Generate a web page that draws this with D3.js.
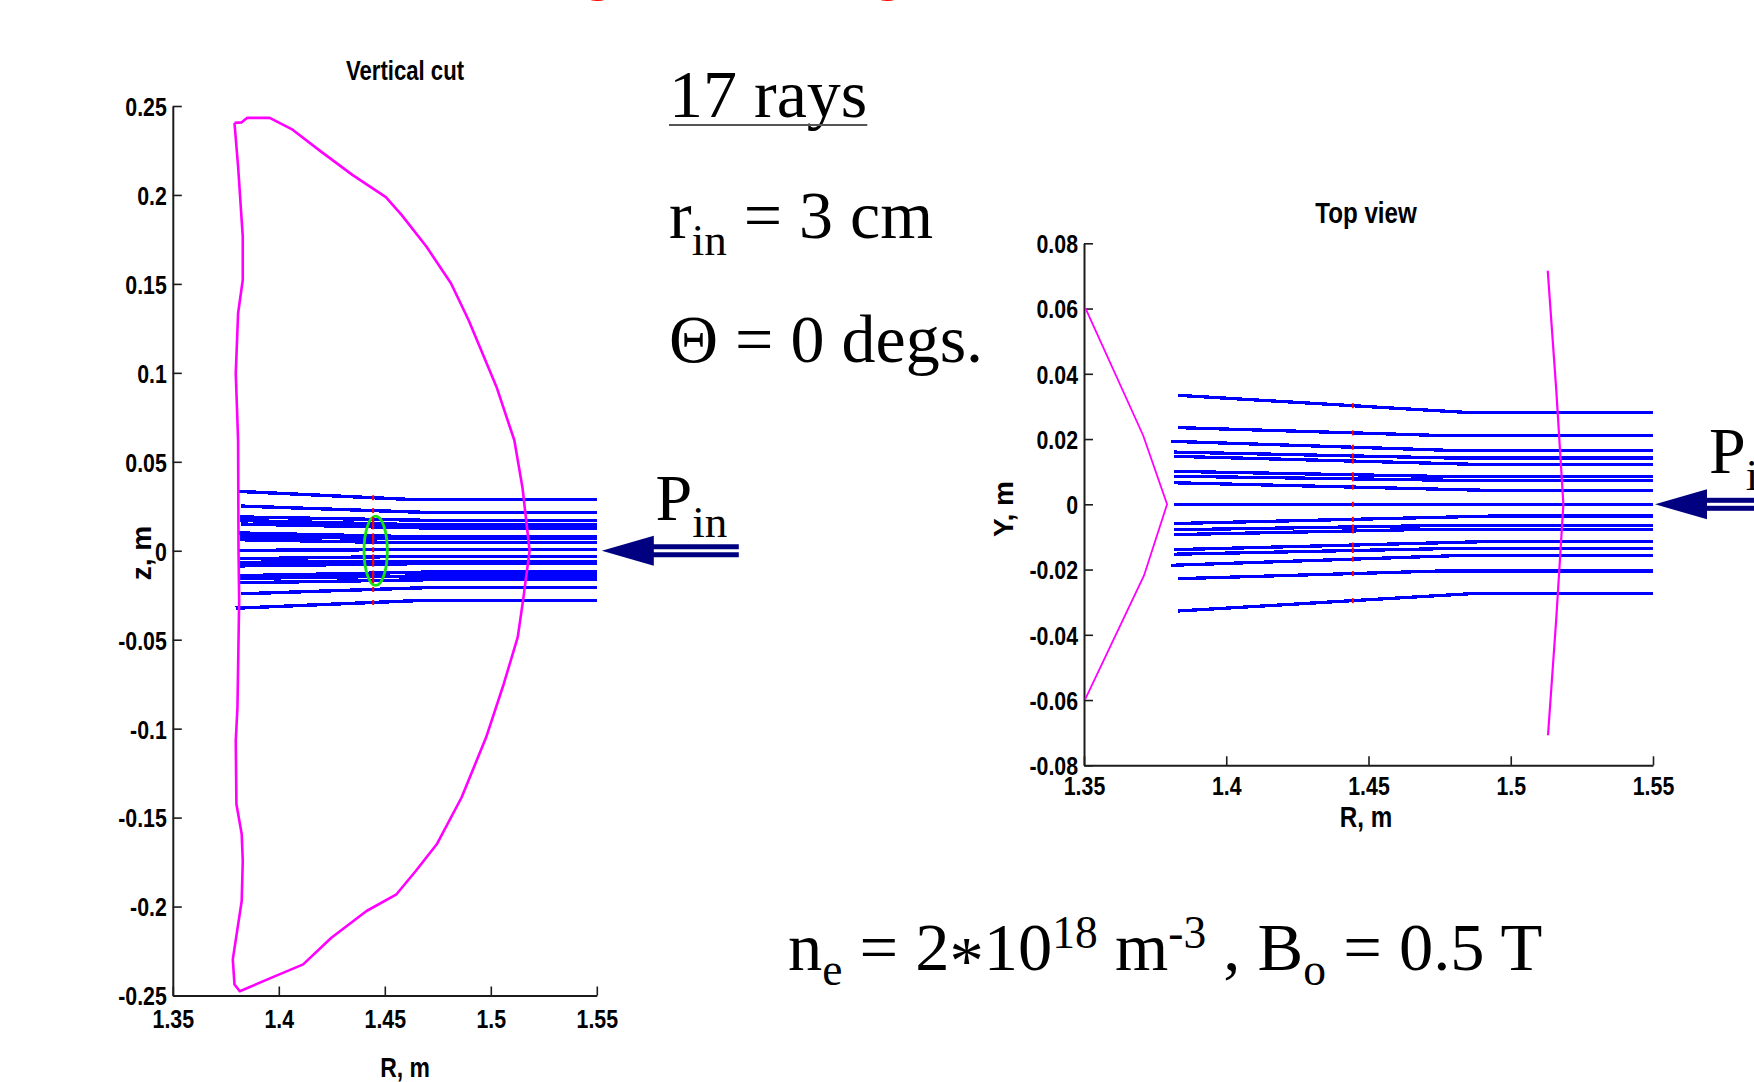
<!DOCTYPE html>
<html>
<head>
<meta charset="utf-8">
<script src="https://cdn.jsdelivr.net/npm/d3@7"></script>
<style>
  html, body { margin: 0; padding: 0; background: #fff; }
  svg { display: block; }
</style>
</head>
<body>
<svg id="fig" width="1754" height="1082"></svg>
<script>
// ---------------- data ----------------
// Axis ticks
const rTicks = [1.35, 1.4, 1.45, 1.5, 1.55];
const rTickLabels = ["1.35", "1.4", "1.45", "1.5", "1.55"];
const zTicks = [0.25, 0.2, 0.15, 0.1, 0.05, 0, -0.05, -0.1, -0.15, -0.2, -0.25];
const zTickLabels = ["0.25", "0.2", "0.15", "0.1", "0.05", "0", "-0.05", "-0.1", "-0.15", "-0.2", "-0.25"];
const yTicks = [0.08, 0.06, 0.04, 0.02, 0, -0.02, -0.04, -0.06, -0.08];
const yTickLabels = ["0.08", "0.06", "0.04", "0.02", "0", "-0.02", "-0.04", "-0.06", "-0.08"];

// Vertical cut: plasma boundary [R, z] in metres
const boundaryR = [1.3791, 1.3825, 1.3850, 1.3957, 1.4065, 1.4198, 1.4347, 1.4505, 1.4579, 1.4696,
  1.4812, 1.4895, 1.5027, 1.5111, 1.5150, 1.5183, 1.5152, 1.5127, 1.5061, 1.4978, 1.4862, 1.4745,
  1.4646, 1.4555, 1.4414, 1.4248, 1.4115, 1.3983, 1.3816, 1.3791, 1.3783, 1.3825, 1.3830, 1.3825,
  1.3800, 1.3797, 1.3805, 1.3813, 1.3810, 1.3808, 1.3797, 1.3808, 1.3830, 1.3830, 1.3808, 1.3791];
const boundaryZ = [0.2405, 0.2408, 0.2433, 0.2433, 0.2367, 0.2245, 0.2113, 0.1988, 0.1888, 0.1710,
  0.1504, 0.1297, 0.0921, 0.0621, 0.0350, 0.0000, -0.0280, -0.0486, -0.0749, -0.1049, -0.1387, -0.1650,
  -0.1800, -0.1931, -0.2025, -0.2175, -0.2325, -0.2391, -0.2476, -0.2438, -0.2297, -0.1969, -0.1744, -0.1593,
  -0.1424, -0.1068, -0.0880, -0.0280, 0.0000, 0.0621, 0.0997, 0.1335, 0.1522, 0.1766, 0.2160, 0.2405];

// Vertical cut: rays (launched at R = 1.55, traced inward)
const rayREnd = 1.55;
const rayRLeftV  = [1.3802, 1.3823, 1.3818, 1.3815, 1.3820, 1.3812, 1.3815, 1.3818, 1.3812, 1.3815, 1.3812, 1.3818, 1.3815, 1.3818, 1.3815, 1.3820, 1.3796];
const rayZLeftV  = [0.0334, 0.0251, 0.0190, 0.0170, 0.0150, 0.0100, 0.0080, 0.0062, 0.0002, -0.0045, -0.0065, -0.0085, -0.0140, -0.0155, -0.0180, -0.0242, -0.0323];
const rayRFlatV  = [1.4643, 1.4730, 1.4700, 1.4600, 1.4700, 1.4556, 1.4600, 1.4600, 1.4500, 1.4600, 1.4700, 1.4700, 1.4700, 1.4600, 1.4700, 1.4761, 1.4659];
const rayZRightV = [0.0287, 0.0214, 0.0171, 0.0148, 0.0128, 0.0081, 0.0068, 0.0045, 0.0006, -0.0032, -0.0060, -0.0072, -0.0120, -0.0143, -0.0163, -0.0205, -0.0280];

// Absorption spot in the vertical cut (centre and half-widths, m)
const spotR = 1.4457, spotZ = 0.0, spotHalfR = 0.0055, spotHalfZ = 0.0195;
// Resonance position along R
const resonanceR = 1.4445;

// Top view: walls [R, Y]
const innerWallR = [1.3505, 1.3708, 1.3792, 1.3711, 1.3504];
const innerWallY = [0.0601, 0.0211, 0.0000, -0.0218, -0.0598];
const outerWallR = [1.5130, 1.5160, 1.5185, 1.5160, 1.5131];
const outerWallY = [0.0716, 0.0350, 0.0000, -0.0350, -0.0708];

// Top view: rays
const rayRLeftT  = [1.3830, 1.3830, 1.3806, 1.3818, 1.3818, 1.3815, 1.3818, 1.3818, 1.3818, 1.3817, 1.3817, 1.3815, 1.3818, 1.3818, 1.3806, 1.3830, 1.3830];
const rayYLeftT  = [0.0334, 0.0235, 0.0193, 0.0160, 0.0147, 0.0101, 0.0086, 0.0066, 0.0000, -0.0059, -0.0078, -0.0093, -0.0139, -0.0153, -0.0187, -0.0228, -0.0327];
const rayRFlatT  = [1.4836, 1.4749, 1.4797, 1.4783, 1.4896, 1.4780, 1.4840, 1.4907, 1.4500, 1.4937, 1.4830, 1.4700, 1.4930, 1.4815, 1.4820, 1.4770, 1.4860];
const rayYRightT = [0.0282, 0.0211, 0.0165, 0.0142, 0.0122, 0.0085, 0.0073, 0.0043, 0.0000, -0.0036, -0.0064, -0.0077, -0.0114, -0.0135, -0.0157, -0.0204, -0.0274];

// ---------------- fonts ----------------
function fontAvailable(name) {
  const ctx = document.createElement("canvas").getContext("2d");
  const probe = "0.25 Vertical cut R, m";
  ctx.font = "bold 40px monospace";
  const w0 = ctx.measureText(probe).width;
  ctx.font = `bold 40px "${name}", monospace`;
  return ctx.measureText(probe).width !== w0;
}
const hasNarrow = fontAvailable("Liberation Sans Narrow");
const narrowFamily = hasNarrow ? '"Liberation Sans Narrow", "Arial Narrow", sans-serif' : '"Liberation Sans", Arial, sans-serif';
const plainFamily = '"Liberation Sans", Arial, sans-serif';
const kx = hasNarrow ? 1 : 0.82;   // horizontal squeeze when no narrow face exists
const serifFamily = '"Liberation Serif", "Times New Roman", serif';

// ---------------- scales ----------------
const svg = d3.select("#fig");
const xV = d3.scaleLinear().domain([1.35, 1.55]).range([172.8, 596.8]);
const yV = d3.scaleLinear().domain([-0.25, 0.25]).range([995.5, 106]);
const xT = d3.scaleLinear().domain([1.35, 1.55]).range([1084, 1653]);
const yT = d3.scaleLinear().domain([-0.08, 0.08]).range([765.3, 243.3]);

const AXIS_COLOR = "#1c1c1c";

function drawAxes(x, y, xt, xl, yt, yl, xLabelY) {
  const gx = svg.append("g")
    .attr("transform", `translate(0,${y.range()[0]})`)
    .call(d3.axisBottom(x).tickValues(xt).tickFormat((d, i) => xl[i]).tickSizeInner(-9).tickSizeOuter(0));
  const gy = svg.append("g")
    .attr("transform", `translate(${x.range()[0]},0)`)
    .call(d3.axisLeft(y).tickValues(yt).tickFormat((d, i) => yl[i]).tickSizeInner(-9).tickSizeOuter(0));
  [gx, gy].forEach(g => {
    g.select(".domain").attr("stroke", AXIS_COLOR).attr("stroke-width", 2);
    g.selectAll(".tick line").attr("stroke", AXIS_COLOR).attr("stroke-width", 1.6);
    g.selectAll(".tick text")
      .attr("font-family", narrowFamily).attr("font-weight", "bold").attr("font-size", 26)
      .attr("fill", "#000").attr("transform", `scale(${kx},1)`);
  });
  gx.selectAll(".tick text").attr("y", xLabelY).attr("dy", null);
  gy.selectAll(".tick text").attr("x", -6 / kx).attr("dy", "0.36em");
}

// bold condensed heading / axis caption
function sansLabel(x, y, txt, size) {
  svg.append("text")
    .attr("transform", `translate(${x},${y}) scale(${kx},1)`)
    .attr("text-anchor", "middle")
    .attr("font-family", narrowFamily).attr("font-weight", "bold").attr("font-size", size)
    .attr("fill", "#000")
    .text(txt);
}

// rotated axis caption (drawn at full width)
function sideLabel(x, y, txt) {
  svg.append("text")
    .attr("transform", `translate(${x},${y}) rotate(-90)`)
    .attr("text-anchor", "middle")
    .attr("font-family", plainFamily).attr("font-weight", "bold").attr("font-size", 28)
    .attr("fill", "#000")
    .text(txt);
}

function richText(x, y, size, parts, small = 45, subShift = 17, supShift = -22) {
  const t = svg.append("text")
    .attr("x", x).attr("y", y)
    .attr("font-family", serifFamily).attr("font-size", size)
    .attr("fill", "#000")
    .style("white-space", "pre");
  let shift = 0;
  parts.forEach(p => {
    const target = p.sub ? subShift : p.sup ? supShift : (p.shift || 0);
    t.append("tspan")
      .attr("dy", target - shift)
      .attr("font-size", (p.sub || p.sup) ? small : size)
      .text(p.t);
    shift = target;
  });
  return t;
}

function drawArrow(tipX, tipY, length) {
  const headLen = 52, headHalf = 15, band = 5, gap = 3;
  const g = svg.append("g").attr("fill", "#000080");
  g.append("path").attr("d", `M${tipX},${tipY} L${tipX + headLen},${tipY - headHalf} L${tipX + headLen},${tipY + headHalf} Z`);
  g.append("rect").attr("x", tipX + headLen - 1).attr("y", tipY - gap / 2 - band).attr("width", length - headLen + 1).attr("height", band);
  g.append("rect").attr("x", tipX + headLen - 1).attr("y", tipY + gap / 2).attr("width", length - headLen + 1).attr("height", band);
}

// value of a polyline [[R, v], ...] at a given R
function valueAt(pts, r) {
  for (let i = 0; i < pts.length - 1; i++) {
    const [r0, v0] = pts[i], [r1, v1] = pts[i + 1];
    if (r >= r0 && r <= r1) return v0 + (v1 - v0) * (r - r0) / (r1 - r0);
  }
  return pts[pts.length - 1][1];
}

// ---------------- slide heading (runs off the top edge) ----------------
svg.append("g").attr("font-family", serifFamily).attr("font-size", 60).attr("fill", "#ff0000")
  .selectAll("text").data([583, 873]).join("text")
  .attr("x", d => d).attr("y", -12).text("g");

// ---------------- vertical cut ----------------
drawAxes(xV, yV, rTicks, rTickLabels, zTicks, zTickLabels, 33);
sansLabel(405, 80, "Vertical cut", 27);
sansLabel(405, 1077, "R, m", 28);
sideLabel(151, 553, "z, m");

const lineV = d3.line().x(d => xV(d[0])).y(d => yV(d[1]));
const raysV = rayZLeftV.map((z, i) => [[rayRLeftV[i], z], [rayRFlatV[i], rayZRightV[i]], [rayREnd, rayZRightV[i]]]);

svg.append("g").selectAll("path").data(raysV).join("path")
  .attr("d", lineV).attr("fill", "none").attr("stroke", "#0000ff")
  .attr("stroke-width", 3.4).attr("shape-rendering", "crispEdges");

svg.append("path")
  .datum(boundaryR.map((r, i) => [r, boundaryZ[i]]))
  .attr("d", lineV).attr("fill", "none").attr("stroke", "#ff00ff")
  .attr("stroke-width", 2.6).attr("stroke-linejoin", "round");

svg.append("ellipse")
  .attr("cx", xV(spotR)).attr("cy", yV(spotZ))
  .attr("rx", xV(spotR + spotHalfR) - xV(spotR))
  .attr("ry", yV(spotZ) - yV(spotZ + spotHalfZ))
  .attr("fill", "none").attr("stroke", "#12e312").attr("stroke-width", 2.8);

svg.append("g").selectAll("line").data(raysV).join("line")
  .attr("x1", xV(resonanceR)).attr("x2", xV(resonanceR))
  .attr("y1", d => yV(valueAt(d, resonanceR)) - 2.5)
  .attr("y2", d => yV(valueAt(d, resonanceR)) + 2.5)
  .attr("stroke", "#ff0000").attr("stroke-width", 2);

drawArrow(xV(rayREnd) + 5, yV(0), 137);
richText(655.6, 520, 66, [{ t: "P" }, { t: "in", sub: true }]);

// ---------------- top view ----------------
drawAxes(xT, yT, rTicks, rTickLabels, yTicks, yTickLabels, 30);
sansLabel(1366, 223, "Top view", 29.5);
sansLabel(1366, 827, "R, m", 29.5);
sideLabel(1013, 509, "Y, m");

const lineT = d3.line().x(d => xT(d[0])).y(d => yT(d[1]));
const raysT = rayYLeftT.map((v, i) => [[rayRLeftT[i], v], [rayRFlatT[i], rayYRightT[i]], [rayREnd, rayYRightT[i]]]);

svg.append("g").selectAll("path").data(raysT).join("path")
  .attr("d", lineT).attr("fill", "none").attr("stroke", "#0000ff")
  .attr("stroke-width", 3.3).attr("shape-rendering", "crispEdges");

svg.append("g").selectAll("line").data(raysT).join("line")
  .attr("x1", xT(resonanceR)).attr("x2", xT(resonanceR))
  .attr("y1", d => yT(valueAt(d, resonanceR)) - 2.5)
  .attr("y2", d => yT(valueAt(d, resonanceR)) + 2.5)
  .attr("stroke", "#ff0000").attr("stroke-width", 2);

svg.append("path")
  .datum(innerWallR.map((r, i) => [r, innerWallY[i]]))
  .attr("d", lineT).attr("fill", "none").attr("stroke", "#ff00ff").attr("stroke-width", 1.8);
svg.append("path")
  .datum(outerWallR.map((r, i) => [r, outerWallY[i]]))
  .attr("d", lineT).attr("fill", "none").attr("stroke", "#ff00ff").attr("stroke-width", 2.2);

drawArrow(xT(rayREnd) + 2, yT(0), 140);
richText(1709, 473, 66, [{ t: "P" }, { t: "in", sub: true }]);

// ---------------- run parameters ----------------
const raysTitle = richText(669, 117, 68, [{ t: `${raysV.length} rays` }]);
const titleW = raysTitle.node().getComputedTextLength();
svg.append("line").attr("x1", 669).attr("x2", 669 + titleW).attr("y1", 125).attr("y2", 125)
  .attr("stroke", "#555").attr("stroke-width", 2);

richText(669, 238, 68, [{ t: "r" }, { t: "in", sub: true }, { t: " = 3 cm" }]);
richText(669, 362, 68, [{ t: "\u0398 = 0 degs." }]);
richText(788, 970, 68.5, [
  { t: "n" }, { t: "e", sub: true }, { t: " = 2" }, { t: "*", shift: 13 }, { t: "10" }, { t: "18", sup: true },
  { t: " m" }, { t: "-3", sup: true }, { t: " , B" }, { t: "o", sub: true }, { t: " = 0.5 T" }
], 45.5, 15, -22);
</script>
</body>
</html>
